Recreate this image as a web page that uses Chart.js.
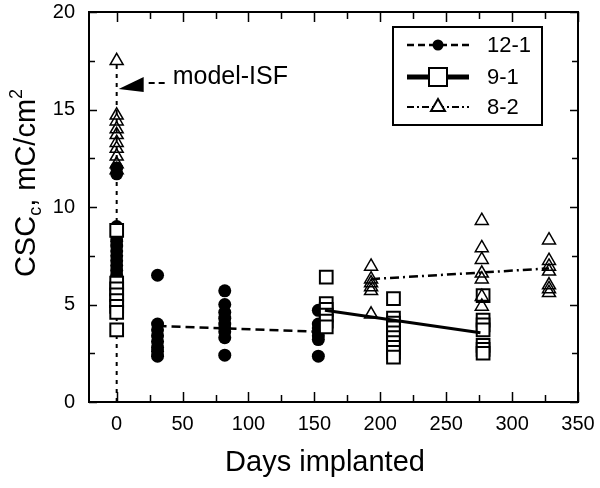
<!DOCTYPE html>
<html>
<head>
<meta charset="utf-8">
<script src="https://cdn.jsdelivr.net/npm/chart.js@4.4.1/dist/chart.umd.min.js"></script>
<style>
  html, body { margin: 0; padding: 0; background: #fff; }
  #wrap { width: 600px; height: 488px; }
</style>
</head>
<body>
<div id="wrap"><canvas id="cscChart"></canvas></div>
<script>
// axis ticks
const xTicks = [0, 50, 100, 150, 200, 250, 300, 350];
const xMinor = [25, 75, 125, 175, 225, 275, 325];
const yTicks = [0, 5, 10, 15, 20];
const yMinor = [2.5, 7.5, 12.5, 17.5];

// 12-1 (filled circles)
const days121 = [0, 0, 0, 0, 0, 0, 0, 0, 0, 0, 0, 0, 0, 0, 0, 0, 0, 0, 0,
                 31, 31, 31, 31, 31, 31, 31, 31,
                 82, 82, 82, 82, 82, 82, 82, 82, 82,
                 153, 153, 153, 153, 153, 153, 153];
const csc121 = [12.0, 11.7, 9.0, 8.75, 8.5, 8.25, 8.0, 7.75, 7.5, 7.25, 7.0, 6.75, 6.5, 6.25, 6.0, 5.7, 5.4, 5.1, 4.8,
                6.5, 4.0, 3.7, 3.4, 3.1, 2.8, 2.6, 2.35,
                5.7, 5.0, 4.6, 4.3, 4.0, 3.8, 3.6, 3.3, 2.4,
                4.7, 4.0, 3.8, 3.6, 3.4, 3.2, 2.35];

// 9-1 (open squares)
const days91 = [0, 0, 0, 0, 0, 0, 0, 0,
                159, 159, 159, 159, 159, 159,
                210, 210, 210, 210, 210, 210, 210, 210, 210, 210,
                278, 278, 278, 278, 278, 278, 278];
const csc91 = [8.8, 6.1, 5.8, 5.5, 5.2, 4.9, 4.6, 3.7,
               6.4, 5.05, 4.75, 4.45, 4.15, 3.85,
               5.3, 4.3, 4.05, 3.8, 3.55, 3.3, 3.05, 2.8, 2.55, 2.3,
               5.45, 4.2, 3.95, 3.7, 2.9, 2.7, 2.5];

// 8-2 (open triangles)
const days82 = [0, 0, 0, 0, 0, 0, 0, 0, 0, 0,
                193, 193, 193, 193, 193, 193,
                277, 277, 277, 277, 277, 277, 277,
                328, 328, 328, 328, 328, 328, 328];
const csc82 = [17.5, 14.7, 14.4, 14.0, 13.7, 13.3, 13.0, 12.6, 12.2, 11.9,
               6.95, 6.3, 6.1, 5.9, 5.7, 4.5,
               9.3, 7.9, 7.3, 6.6, 6.3, 5.4, 4.9,
               8.3, 7.25, 6.95, 6.7, 6.0, 5.8, 5.6];

// fitted trend lines
const fit121X = [31, 155];
const fit121Y = [3.9, 3.6];
const fit91X = [158, 276];
const fit91Y = [4.7, 3.55];
const fit82X = [193, 328];
const fit82Y = [6.3, 6.85];

// model-ISF marker line
const modelX = [0, 0];
const modelY = [0, 17.5];
const modelArrowY = 16.05;

function pts(xs, ys) {
    return xs.map((x, i) => ({ x: x, y: ys[i] }));
}

const FONT = '"Liberation Sans", Arial, sans-serif';

const framePlugin = {
    id: 'framePlugin',
    afterDraw(chart) {
        const ctx = chart.ctx;
        const a = chart.chartArea;
        const xs = chart.scales.x;
        const ys = chart.scales.y;
        ctx.save();
        ctx.strokeStyle = '#000';
        ctx.lineWidth = 2;
        ctx.strokeRect(a.left, a.top, a.right - a.left, a.bottom - a.top);

        // inward ticks on all four sides
        ctx.lineWidth = 1.5;
        ctx.beginPath();
        const xt = xTicks.map(v => [v, 10]).concat(xMinor.map(v => [v, 7]));
        xt.forEach(([v, len]) => {
            const px = Math.round(xs.getPixelForValue(v)) + 0.5;
            ctx.moveTo(px, a.bottom); ctx.lineTo(px, a.bottom - len);
            ctx.moveTo(px, a.top); ctx.lineTo(px, a.top + len);
        });
        const yt = yTicks.map(v => [v, 8]).concat(yMinor.map(v => [v, 6]));
        yt.forEach(([v, len]) => {
            const py = Math.round(ys.getPixelForValue(v)) + 0.5;
            ctx.moveTo(a.left, py); ctx.lineTo(a.left + len, py);
            ctx.moveTo(a.right, py); ctx.lineTo(a.right - len, py);
        });
        ctx.stroke();

        // x title
        ctx.fillStyle = '#000';
        ctx.font = '29px ' + FONT;
        ctx.textAlign = 'center';
        ctx.textBaseline = 'alphabetic';
        ctx.fillText('Days implanted', 325, 471);

        // y title with sub/superscript
        ctx.save();
        ctx.translate(0, 183);
        ctx.rotate(-Math.PI / 2);
        const parts = [
            { t: 'CSC', f: 29, dy: 0 },
            { t: 'c', f: 18, dy: 6 },
            { t: ', mC/cm', f: 29, dy: 0 },
            { t: '2', f: 18, dy: -13 }
        ];
        let total = 0;
        parts.forEach(p => { ctx.font = p.f + 'px ' + FONT; p.w = ctx.measureText(p.t).width; total += p.w; });
        let cx = -total / 2;
        ctx.textAlign = 'left';
        parts.forEach(p => {
            ctx.font = p.f + 'px ' + FONT;
            ctx.fillText(p.t, cx, 35 + p.dy);
            cx += p.w;
        });
        ctx.restore();

        // model-ISF annotation
        const tipX = xs.getPixelForValue(0) + 2;
        const tipY = ys.getPixelForValue(modelArrowY);
        ctx.beginPath();
        ctx.moveTo(tipX, tipY);
        ctx.lineTo(tipX + 25, tipY - 12);
        ctx.lineTo(tipX + 25, tipY + 3);
        ctx.closePath();
        ctx.fill();
        ctx.lineWidth = 2;
        ctx.setLineDash([6, 4]);
        ctx.beginPath();
        ctx.moveTo(tipX + 30, tipY - 6);
        ctx.lineTo(tipX + 50, tipY - 6);
        ctx.stroke();
        ctx.setLineDash([]);
        ctx.font = '25px ' + FONT;
        ctx.textAlign = 'left';
        ctx.textBaseline = 'middle';
        ctx.fillText('model-ISF', tipX + 54, tipY - 12);

        // legend
        const lx = 393, ly = 27, lw = 149, lh = 98;
        ctx.lineWidth = 2;
        ctx.strokeRect(lx, ly, lw, lh);
        const rows = [
            { label: '12-1', y: 45, dash: [7, 4], lw: 2.5, mark: 'circle' },
            { label: '9-1', y: 77, dash: [], lw: 5, mark: 'square' },
            { label: '8-2', y: 107, dash: [7, 3, 2, 3], lw: 2, mark: 'triangle' }
        ];
        rows.forEach(r => {
            ctx.lineWidth = r.lw;
            ctx.setLineDash(r.dash);
            ctx.beginPath();
            ctx.moveTo(407, r.y); ctx.lineTo(469, r.y);
            ctx.stroke();
            ctx.setLineDash([]);
            ctx.lineWidth = 2;
            ctx.beginPath();
            if (r.mark === 'circle') {
                ctx.arc(438, r.y, 5.5, 0, Math.PI * 2);
                ctx.fill();
            } else if (r.mark === 'square') {
                ctx.fillStyle = '#fff';
                ctx.fillRect(429, r.y - 9, 18, 18);
                ctx.fillStyle = '#000';
                ctx.strokeRect(429, r.y - 9, 18, 18);
            } else {
                ctx.fillStyle = '#fff';
                ctx.moveTo(438, r.y - 8); ctx.lineTo(445, r.y + 4); ctx.lineTo(431, r.y + 4);
                ctx.closePath();
                ctx.fill();
                ctx.fillStyle = '#000';
                ctx.stroke();
            }
            ctx.font = '22px ' + FONT;
            ctx.textAlign = 'left';
            ctx.textBaseline = 'middle';
            ctx.fillText(r.label, 487, r.y + 1);
        });
        ctx.restore();
    }
};

const ctx = document.getElementById('cscChart').getContext('2d');
new Chart(ctx, {
    type: 'scatter',
    data: {
        datasets: [
            {
                label: 'model-ISF',
                data: pts(modelX, modelY),
                showLine: true,
                borderColor: '#000',
                borderWidth: 2,
                borderDash: [4, 5],
                pointRadius: 0,
                order: 9
            },
            {
                label: '12-1',
                data: pts(days121, csc121),
                pointStyle: 'circle',
                pointRadius: 6.5,
                backgroundColor: '#000',
                borderColor: '#000',
                borderWidth: 0,
                order: 6
            },
            {
                label: '9-1',
                data: pts(days91, csc91),
                pointStyle: 'rect',
                pointRadius: 9,
                backgroundColor: '#fff',
                borderColor: '#000',
                borderWidth: 2,
                order: 5
            },
            {
                label: '8-2',
                data: pts(days82, csc82),
                pointStyle: 'triangle',
                pointRadius: 7.5,
                backgroundColor: 'rgba(255,255,255,0)',
                borderColor: '#000',
                borderWidth: 1.5,
                order: 4
            },
            {
                label: '12-1 fit',
                data: pts(fit121X, fit121Y),
                showLine: true,
                borderColor: '#000',
                borderWidth: 2.5,
                borderDash: [9, 5],
                pointRadius: 0,
                order: 3
            },
            {
                label: '9-1 fit',
                data: pts(fit91X, fit91Y),
                showLine: true,
                borderColor: '#000',
                borderWidth: 3,
                pointRadius: 0,
                order: 2
            },
            {
                label: '8-2 fit',
                data: pts(fit82X, fit82Y),
                showLine: true,
                borderColor: '#000',
                borderWidth: 2.5,
                borderDash: [9, 4, 2, 4],
                pointRadius: 0,
                order: 1
            }
        ]
    },
    options: {
        responsive: true,
        maintainAspectRatio: false,
        animation: false,
        events: [],
        layout: { padding: { left: 0, right: 22, top: 12, bottom: 0 } },
        plugins: {
            legend: { display: false },
            tooltip: { enabled: false }
        },
        scales: {
            x: {
                type: 'linear',
                min: -21,
                max: 350,
                grid: { display: false, drawTicks: false },
                border: { display: false },
                afterBuildTicks: s => { s.ticks = xTicks.map(v => ({ value: v })); },
                afterFit: s => { s.height = 86; s.paddingLeft = 0; s.paddingRight = 0; },
                ticks: {
                    autoSkip: false,
                    maxRotation: 0,
                    padding: 10,
                    color: '#000',
                    font: { family: FONT, size: 20 }
                }
            },
            y: {
                type: 'linear',
                min: 0,
                max: 20,
                grid: { display: false, drawTicks: false },
                border: { display: false },
                afterBuildTicks: s => { s.ticks = yTicks.map(v => ({ value: v })); },
                afterFit: s => { s.width = 89; s.paddingTop = 0; s.paddingBottom = 0; },
                ticks: {
                    autoSkip: false,
                    padding: 14,
                    color: '#000',
                    font: { family: FONT, size: 20 }
                }
            }
        }
    },
    plugins: [framePlugin]
});
</script>
</body>
</html>
